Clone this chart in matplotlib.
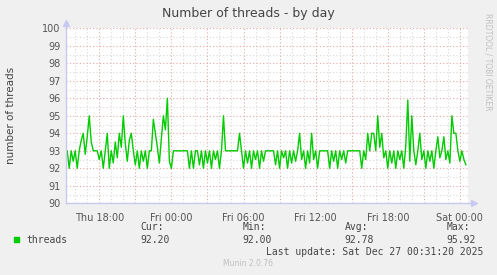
import matplotlib
matplotlib.use("Agg")
import matplotlib.pyplot as plt
import matplotlib.dates as mdates
import pandas as pd
import numpy as np

# ---- data ----
series_name = "threads"
start_time = "2025-12-25 15:20"
sample_freq = "10min"
threads = [
    93, 92, 93, 92.4, 93, 92, 93, 93.6, 94, 92.8,
    93.8, 95, 93.5, 93, 93, 93, 92.5, 93, 92, 93,
    94, 92, 93, 92.3, 93.5, 92.6, 94, 93.2, 95, 93.4,
    92.4, 93.6, 94, 93, 92.2, 93, 92, 93, 92.4, 93,
    92, 93, 93, 94.8, 94, 93.2, 92.3, 93.7, 95, 94.2,
    96, 92.4, 92, 93, 93, 93, 93, 93, 93, 93,
    93, 92, 93, 92, 93, 93, 92.2, 93, 92, 93,
    92.3, 93, 92, 93, 92.5, 93, 92, 93, 95, 93,
    93, 93, 93, 93, 93, 93, 94, 93, 92, 93,
    92.3, 93, 92, 93, 92.5, 93, 92, 93, 92.4, 93,
    93, 93, 93, 93, 92.2, 93, 92, 93, 92.6, 93,
    92, 93, 92.3, 93, 92.4, 93, 94, 92.5, 93, 92,
    93, 92.3, 94, 92.5, 93, 92, 93, 93, 93, 93,
    93, 92, 93, 92.4, 93, 92, 93, 92.5, 93, 92.3,
    93, 93, 93, 93, 93, 93, 93, 92, 93, 92.5,
    94, 93, 94, 94, 93, 95, 93.2, 94, 92.6, 93,
    92, 93, 92.3, 93, 92, 93, 92.5, 93, 92, 93.3,
    95.9, 92.4, 95, 93, 92.2, 93, 94, 92.5, 93, 92,
    93, 92.4, 93, 92, 93, 93.8, 92.6, 93, 93.8, 92.5,
    93, 92.3, 95, 94, 94, 93, 92.4, 93, 92.5, 92.2,
]
stat_labels = ["Cur:", "Min:", "Avg:", "Max:"]
stat_values = ["92.20", "92.00", "92.78", "95.92"]
y_ticks = [90, 91, 92, 93, 94, 95, 96, 97, 98, 99, 100]
x_tick_labels = ["Thu 18:00", "Fri 00:00", "Fri 06:00", "Fri 12:00", "Fri 18:00", "Sat 00:00"]
x_tick_times = ["2025-12-25 18:00", "2025-12-26 00:00", "2025-12-26 06:00",
                "2025-12-26 12:00", "2025-12-26 18:00", "2025-12-27 00:00"]
x_range = ["2025-12-25 15:14", "2025-12-27 00:38"]
title = "Number of threads - by day"
ylabel = "number of threads"
last_update = "Last update: Sat Dec 27 00:31:20 2025"
footer = "Munin 2.0.76"
watermark = "RRDTOOL / TOBI OETIKER"

# ---- figure ----
W, H = 497, 275
fig = plt.figure(figsize=(W / 100, H / 100), dpi=100, facecolor="#F0F0F0")
L, R, T, B = 66, 467.5, 28.3, 203.3
ax = fig.add_axes([L / W, 1 - B / H, (R - L) / W, (B - T) / H])
ax.set_facecolor("white")

times = pd.date_range(start=start_time, periods=len(threads), freq=sample_freq)
ax.plot(times, threads, color="#00CC00", linewidth=1.0, zorder=3)

ax.set_ylim(90, 100)
ax.set_xlim(pd.Timestamp(x_range[0]), pd.Timestamp(x_range[1]))

ax.set_yticks(y_ticks)
ax.set_yticks(np.arange(90, 100.01, 0.5), minor=True)
ax.set_xticks([pd.Timestamp(t) for t in x_tick_times])
ax.set_xticklabels(x_tick_labels)
ax.xaxis.set_major_locator(mdates.HourLocator(byhour=[0, 3, 6, 9, 12, 15, 18, 21]))
ax.xaxis.set_minor_locator(mdates.HourLocator())

# grid
ax.grid(True, which="minor", color="#D8D8D8", linestyle=(0, (1, 2)), linewidth=0.8, zorder=1)
ax.grid(True, which="major", color="#E6A8A8", linestyle=(0, (1, 2)), linewidth=0.8, zorder=2)

# tick labels: only at 6-hour positions
major_locs = ax.get_xticks()
labels = []
tick_map = {mdates.date2num(pd.Timestamp(t)): l for t, l in zip(x_tick_times, x_tick_labels)}
for loc in major_locs:
    lab = ""
    for k, v in tick_map.items():
        if abs(k - loc) < 1e-6:
            lab = v
    labels.append(lab)
ax.set_xticklabels(labels)

ax.tick_params(axis="both", which="both", length=0, labelsize=7, colors="#555555")
ax.tick_params(axis="x", which="major", pad=7)
ax.tick_params(axis="y", which="major", pad=4)
for lbl in ax.get_xticklabels() + ax.get_yticklabels():
    lbl.set_color("#555555")

for s in ["top", "right"]:
    ax.spines[s].set_visible(False)
for s in ["left", "bottom"]:
    ax.spines[s].set_color("#C8C8F0")
    ax.spines[s].set_linewidth(1.0)
    ax.spines[s].set_zorder(4)

# axis arrows
ax.plot([0, 0], [1, 1.03], transform=ax.transAxes, color="#C8C8F0", lw=1, clip_on=False)
ax.plot([0], [1.03], marker="^", markersize=4, color="#C8C8F0", transform=ax.transAxes, clip_on=False)
ax.plot([1, 1.015], [0, 0], transform=ax.transAxes, color="#C8C8F0", lw=1, clip_on=False)
ax.plot([1.015], [0], marker=">", markersize=4, color="#C8C8F0", transform=ax.transAxes, clip_on=False)

def px(x, y):
    return x / W, 1 - y / H

fig.text(*px(248, 13), title, ha="center", va="center", fontsize=9, color="#444444",
         family="DejaVu Sans")
fig.text(*px(11, 115), ylabel, ha="center", va="center", rotation=90, fontsize=7.5,
         color="#444444", family="DejaVu Sans")
fig.text(*px(488, 62), watermark, ha="center", va="center", rotation=270, fontsize=5.5,
         color="#C0C0C0", family="DejaVu Sans")

mono = "DejaVu Sans Mono"
fig.patches.append(plt.Rectangle(px(14, 242), 5 / W, 5 / H, transform=fig.transFigure,
                                 color="#00CC00", figure=fig))
fig.text(*px(26, 240), series_name, ha="left", va="center", fontsize=7, color="#444444", family=mono)
col_x = [140.5, 242.5, 344.5, 446.5]
for cx, lab, val in zip(col_x, stat_labels, stat_values):
    fig.text(*px(cx, 227), lab, ha="left", va="center", fontsize=7, color="#444444", family=mono)
    fig.text(*px(cx, 240), val, ha="left", va="center", fontsize=7, color="#444444", family=mono)
fig.text(*px(483, 252), last_update, ha="right", va="center", fontsize=7, color="#444444", family=mono)
fig.text(*px(248, 264), footer, ha="center", va="center", fontsize=5.5, color="#C0C0C0",
         family="DejaVu Sans")

fig.savefig("out.png", dpi=100, facecolor=fig.get_facecolor())
